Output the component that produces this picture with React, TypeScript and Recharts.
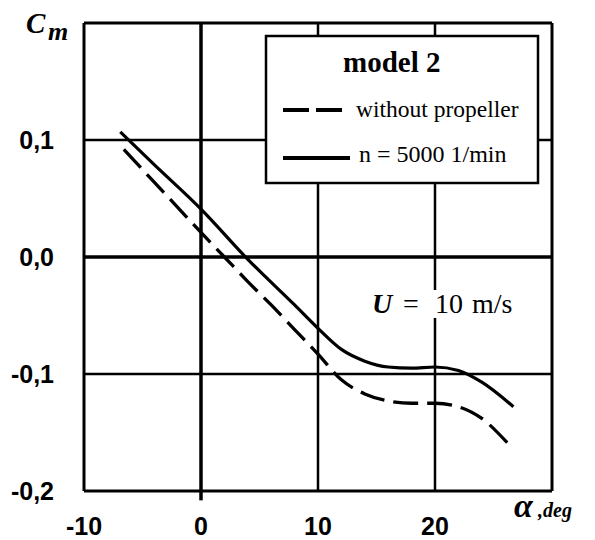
import { LineChart, Line, XAxis, YAxis, ReferenceLine } from 'recharts';

// angle of attack, deg
const alphaTicks = [-10, 0, 10, 20];
const cmTicks = [-0.2, -0.1, 0, 0.1];
const gridAlpha = [10, 20];
const gridCm = [-0.1, 0.1];
const frameAlpha = [-10, 30];
const frameCm = [-0.2, 0.2];

// without propeller (dashed)
const noPropAlpha = [-6.6, -4, 0, 2, 4, 6, 8, 10, 12, 14, 16, 18, 20, 22, 24, 26.2];
const noPropCm = [0.092, 0.064, 0.021, 0.0, -0.021, -0.041, -0.062, -0.083, -0.105, -0.117, -0.123, -0.125, -0.125, -0.128, -0.138, -0.159];

// n = 5000 1/min (solid)
const propAlpha = [-6.9, -4, 0, 4, 8, 10, 12, 14, 16, 18, 20, 22, 24, 26.7];
const propCm = [0.107, 0.079, 0.041, -0.002, -0.041, -0.061, -0.079, -0.089, -0.094, -0.095, -0.094, -0.097, -0.107, -0.128];

const noPropData = noPropAlpha.map((a, i) => ({ a, cm: noPropCm[i] }));
const propData = propAlpha.map((a, i) => ({ a, cm: propCm[i] }));

const tickFont = {
  fill: '#000',
  fontSize: 25,
  fontWeight: 'bold',
  fontFamily: '"Liberation Sans", Arial, sans-serif',
};

const serif = '"Liberation Serif", "Times New Roman", serif';

const fmtCm = (v: number) => v.toFixed(1).replace('.', ',');

export default function App() {
  return (
    <div style={{ position: 'absolute', left: 0, top: 0, width: 595, height: 540, background: '#fff' }}>
      <LineChart
        width={595}
        height={540}
        margin={{ top: 23, right: 43, bottom: 0, left: 0 }}
      >
        <XAxis
          type="number"
          dataKey="a"
          domain={[-10, 30]}
          ticks={alphaTicks}
          axisLine={false}
          tickLine={false}
          tickSize={0}
          tickMargin={26}
          height={49}
          tick={tickFont}
          allowDataOverflow
        />
        <YAxis
          type="number"
          domain={[-0.2, 0.2]}
          ticks={cmTicks}
          tickFormatter={fmtCm}
          axisLine={false}
          tickLine={false}
          tickSize={0}
          tickMargin={30}
          width={84}
          tick={tickFont}
          allowDataOverflow
        />
        {gridAlpha.map((a) => (
          <ReferenceLine key={'gx' + a} x={a} stroke="#000" strokeWidth={2.5} />
        ))}
        {gridCm.map((c) => (
          <ReferenceLine key={'gy' + c} y={c} stroke="#000" strokeWidth={2.5} />
        ))}
        <ReferenceLine x={0} stroke="#000" strokeWidth={3.5} />
        <ReferenceLine y={0} stroke="#000" strokeWidth={3.5} />
        <ReferenceLine
          segment={[{ x: 0, y: -0.2 }, { x: 0, y: -0.208 }]}
          ifOverflow="visible"
          stroke="#000"
          strokeWidth={3.5}
        />
        {frameAlpha.map((a) => (
          <ReferenceLine key={'fx' + a} x={a} stroke="#000" strokeWidth={3} />
        ))}
        {frameCm.map((c) => (
          <ReferenceLine key={'fy' + c} y={c} stroke="#000" strokeWidth={3} />
        ))}
        <Line
          data={noPropData}
          dataKey="cm"
          type="monotone"
          stroke="#000"
          strokeWidth={3.3}
          strokeDasharray="25 9"
          dot={false}
          activeDot={false}
          isAnimationActive={false}
        />
        <Line
          data={propData}
          dataKey="cm"
          type="monotone"
          stroke="#000"
          strokeWidth={3.2}
          dot={false}
          activeDot={false}
          isAnimationActive={false}
        />
      </LineChart>

      <svg
        width={595}
        height={540}
        style={{ position: 'absolute', left: 0, top: 0, pointerEvents: 'none' }}
      >
        {/* axis titles */}
        <text x={26} y={33} fontFamily={serif} fontSize={29} fontWeight="bold" fontStyle="italic">C</text>
        <text x={48} y={40} fontFamily={serif} fontSize={26} fontWeight="bold" fontStyle="italic">m</text>
        <text x={514} y={517} fontFamily={serif} fontSize={34} fontWeight="bold" fontStyle="italic">α</text>
        <text x={538} y={517} fontFamily={serif} fontSize={20} fontWeight="bold" fontStyle="italic">,deg</text>

        {/* legend */}
        <rect x={266} y={36} width={272} height={147} fill="#fff" stroke="#000" strokeWidth={2.5} />
        <text x={343} y={72} fontFamily={serif} fontSize={29} fontWeight="bold">
          model 2
        </text>
        <line x1={283} y1={110} x2={342} y2={110} stroke="#000" strokeWidth={4} strokeDasharray="26 7" />
        <text x={356} y={117} fontFamily={serif} fontSize={23.5}>
          without propeller
        </text>
        <line x1={283} y1={158} x2={350} y2={158} stroke="#000" strokeWidth={4} />
        <text x={359} y={162} fontFamily={serif} fontSize={24}>
          n = 5000 1/min
        </text>

        {/* flow speed */}
        <rect x={368} y={290} width={154} height={28} fill="#fff" />
        <text x={372} y={313} fontFamily={serif} fontSize={28} fontWeight="bold" fontStyle="italic">U</text>
        <text x={403} y={313} fontFamily={serif} fontSize={28}>=</text>
        <text x={435} y={313} fontFamily={serif} fontSize={28}>10</text>
        <text x={472} y={313} fontFamily={serif} fontSize={28}>m/s</text>
      </svg>
    </div>
  );
}
